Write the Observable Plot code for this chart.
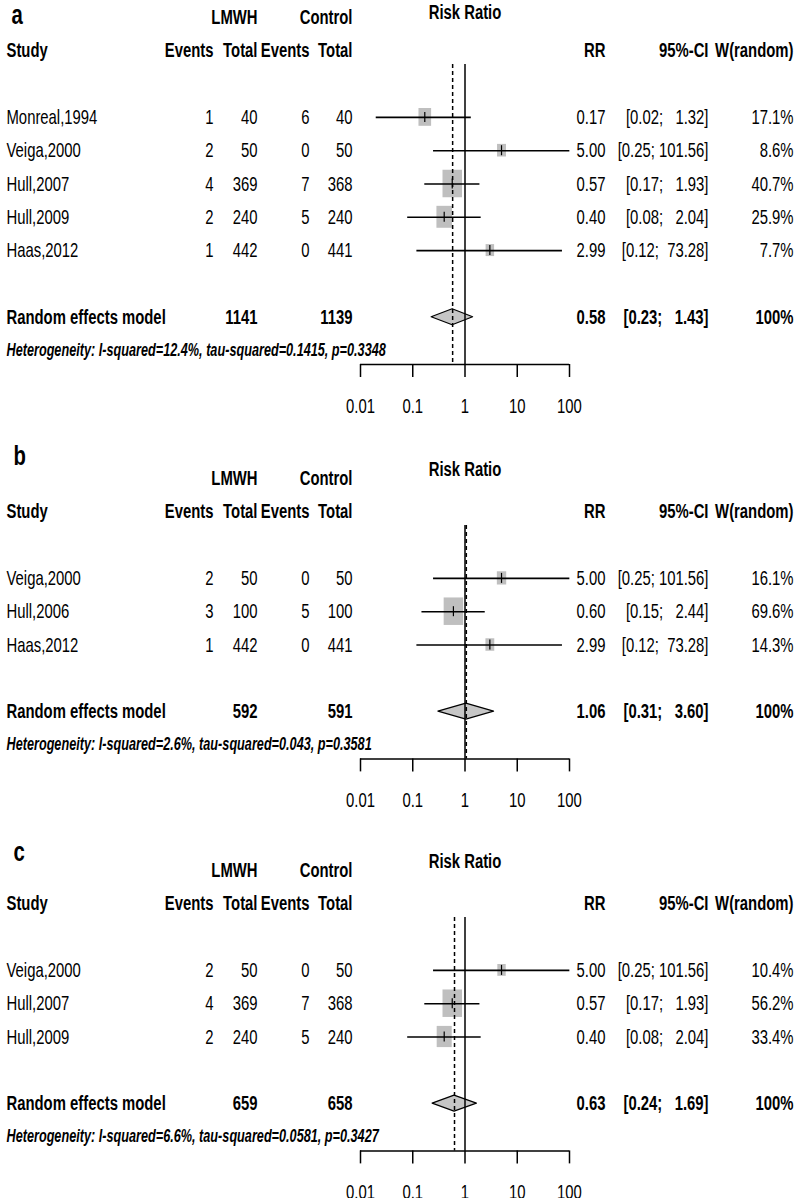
<!DOCTYPE html>
<html>
<head>
<meta charset="utf-8">
<script src="https://cdn.jsdelivr.net/npm/d3@7"></script>
<script src="https://cdn.jsdelivr.net/npm/@observablehq/plot@0.6"></script>
<style>
  body { margin: 0; background: #fff; }
  #chart svg { display: block; }
  #chart svg text { white-space: pre; }
</style>
</head>
<body>
<div id="chart"></div>
<script>
// ---------------- DATA ----------------
const panelLabels = ["a", "b", "c"];
const axisTicks = [0.01, 0.1, 1, 10, 100];

// Panel a
const studiesA = ["Monreal,1994", "Veiga,2000", "Hull,2007", "Hull,2009", "Haas,2012"];
const eventsLmwhA = [1, 2, 4, 2, 1];
const totalLmwhA = [40, 50, 369, 240, 442];
const eventsCtrlA = [6, 0, 7, 5, 0];
const totalCtrlA = [40, 50, 368, 240, 441];
const rrA = [0.17, 5.00, 0.57, 0.40, 2.99];
const lowerA = [0.02, 0.25, 0.17, 0.08, 0.12];
const upperA = [1.32, 101.56, 1.93, 2.04, 73.28];
const weightA = [17.1, 8.6, 40.7, 25.9, 7.7];
const pooledA = [0.58, 0.23, 1.43];      // RR, lower, upper
const pooledTotalsA = [1141, 1139];      // LMWH, Control
const hetA = "Heterogeneity: I-squared=12.4%, tau-squared=0.1415, p=0.3348";

// Panel b
const studiesB = ["Veiga,2000", "Hull,2006", "Haas,2012"];
const eventsLmwhB = [2, 3, 1];
const totalLmwhB = [50, 100, 442];
const eventsCtrlB = [0, 5, 0];
const totalCtrlB = [50, 100, 441];
const rrB = [5.00, 0.60, 2.99];
const lowerB = [0.25, 0.15, 0.12];
const upperB = [101.56, 2.44, 73.28];
const weightB = [16.1, 69.6, 14.3];
const pooledB = [1.06, 0.31, 3.60];
const pooledTotalsB = [592, 591];
const hetB = "Heterogeneity: I-squared=2.6%, tau-squared=0.043, p=0.3581";

// Panel c
const studiesC = ["Veiga,2000", "Hull,2007", "Hull,2009"];
const eventsLmwhC = [2, 4, 2];
const totalLmwhC = [50, 369, 240];
const eventsCtrlC = [0, 7, 5];
const totalCtrlC = [50, 368, 240];
const rrC = [5.00, 0.57, 0.40];
const lowerC = [0.25, 0.17, 0.08];
const upperC = [101.56, 1.93, 2.04];
const weightC = [10.4, 56.2, 33.4];
const pooledC = [0.63, 0.24, 1.69];
const pooledTotalsC = [659, 658];
const hetC = "Heterogeneity: I-squared=6.6%, tau-squared=0.0581, p=0.3427";

// ---------------- LAYOUT / STYLE ----------------
const FONT = "'Liberation Sans',Arial,sans-serif";
const FS = 20.5;          // main text size
const FS_HET = 17.5;      // heterogeneity line
const CONDENSE = 0.725;   // horizontal squeeze (narrow face look)
const ROW = 33.3;
const COL = {study: 6, het: 6, evL: 213, totL: 257, evC: 309, totC: 352, rr: 605, ci: 708, w: 793};
const layouts = [
  {height: 440, row0: 17, riskDy: -5, letterX: 11, letterY: 23},
  {height: 392, row0: 38, riskDy: -9, letterX: 13, letterY: 25},
  {height: 366, row0: 38, riskDy: -9, letterX: 13, letterY: 29}
];
const SQ_W = 19.5, SQ_H = 27.5;

const panels = [
  {studies: studiesA, evL: eventsLmwhA, totL: totalLmwhA, evC: eventsCtrlA, totC: totalCtrlA,
   rr: rrA, lo: lowerA, hi: upperA, w: weightA, pooled: pooledA, totals: pooledTotalsA, het: hetA},
  {studies: studiesB, evL: eventsLmwhB, totL: totalLmwhB, evC: eventsCtrlB, totC: totalCtrlB,
   rr: rrB, lo: lowerB, hi: upperB, w: weightB, pooled: pooledB, totals: pooledTotalsB, het: hetB},
  {studies: studiesC, evL: eventsLmwhC, totL: totalLmwhC, evC: eventsCtrlC, totC: totalCtrlC,
   rr: rrC, lo: lowerC, hi: upperC, w: weightC, pooled: pooledC, totals: pooledTotalsC, het: hetC}
];

const f2 = d3.format(".2f");

function forest(P, L, label) {
  const n = P.studies.length;
  const pad = d3.max([...P.hi, P.pooled[2]], v => f2(v).length);
  const ci = (lo, hi) => `[${f2(lo)}; ${f2(hi).padStart(pad)}]`;
  const maxW = d3.max(P.w);
  const rows = P.studies.map((s, i) => ({
    study: s, evL: String(P.evL[i]), totL: String(P.totL[i]), evC: String(P.evC[i]), totC: String(P.totC[i]),
    rr: P.rr[i], lo: P.lo[i], hi: P.hi[i], w: P.w[i],
    rrText: f2(P.rr[i]), ciText: ci(P.lo[i], P.hi[i]), wText: P.w[i].toFixed(1) + "%",
    sw: SQ_W * Math.sqrt(P.w[i] / maxW), sh: SQ_H * Math.sqrt(P.w[i] / maxW),
    y: L.row0 + (3 + i) * ROW
  }));
  const yRand = L.row0 + (n + 4) * ROW;
  const yHet = yRand + ROW;
  const yAxis = yHet + 0.42 * ROW;
  const yLine0 = L.row0 + 47;
  const pooled = [{
    label: "Random effects model", totL: String(P.totals[0]), totC: String(P.totals[1]),
    rrText: f2(P.pooled[0]), ciText: ci(P.pooled[1], P.pooled[2]), wText: "100%", y: yRand
  }];
  const diamond = [
    {x: P.pooled[1], y1: yRand, y2: yRand},
    {x: P.pooled[0], y1: yRand - 8, y2: yRand + 8},
    {x: P.pooled[2], y1: yRand, y2: yRand}
  ];
  const h1 = [{y: L.row0}], h2 = [{y: L.row0 + ROW}];

  const col = (data, text, x, o = {}) =>
    Plot.text(data, {y: "y", text, frameAnchor: "left", dx: x, textAnchor: "end", fontSize: FS, ...o});

  return Plot.plot({
    width: 797,
    height: L.height,
    marginLeft: 0, marginRight: 0, marginTop: 0,
    marginBottom: L.height - yAxis,
    x: {type: "log", domain: [0.01, 100], range: [360, 569]},
    y: {type: "identity"},
    style: {fontFamily: FONT, fontSize: FS + "px", color: "black", background: "white"},
    marks: [
      // panel letter
      Plot.text([label], {frameAnchor: "left", dx: L.letterX, y: () => L.letterY, text: d => d,
        textAnchor: "start", lineAnchor: "bottom", fontWeight: "bold", fontSize: 28,
        ariaLabel: "panel-letter"}),
      // header row 1
      col(h1, () => "LMWH", COL.totL, {fontWeight: "bold"}),
      col(h1, () => "Control", COL.totC, {fontWeight: "bold"}),
      Plot.text(["Risk Ratio"], {x: () => 1, y: () => L.row0 + L.riskDy, text: d => d,
        fontWeight: "bold", fontSize: FS}),
      // header row 2
      col(h2, () => "Study", COL.study, {fontWeight: "bold", textAnchor: "start"}),
      col(h2, () => "Events", COL.evL, {fontWeight: "bold"}),
      col(h2, () => "Total", COL.totL, {fontWeight: "bold"}),
      col(h2, () => "Events", COL.evC, {fontWeight: "bold"}),
      col(h2, () => "Total", COL.totC, {fontWeight: "bold"}),
      col(h2, () => "RR", COL.rr, {fontWeight: "bold"}),
      col(h2, () => "95%-CI", COL.ci, {fontWeight: "bold"}),
      col(h2, () => "W(random)", COL.w, {fontWeight: "bold"}),
      // study rows
      col(rows, "study", COL.study, {textAnchor: "start"}),
      col(rows, "evL", COL.evL),
      col(rows, "totL", COL.totL),
      col(rows, "evC", COL.evC),
      col(rows, "totC", COL.totC),
      col(rows, "rrText", COL.rr),
      col(rows, "ciText", COL.ci),
      col(rows, "wText", COL.w),
      // pooled row
      col(pooled, "label", COL.study, {textAnchor: "start", fontWeight: "bold"}),
      col(pooled, "totL", COL.totL, {fontWeight: "bold"}),
      col(pooled, "totC", COL.totC, {fontWeight: "bold"}),
      col(pooled, "rrText", COL.rr, {fontWeight: "bold"}),
      col(pooled, "ciText", COL.ci, {fontWeight: "bold"}),
      col(pooled, "wText", COL.w, {fontWeight: "bold"}),
      // heterogeneity
      Plot.text([P.het], {frameAnchor: "left", dx: COL.het, y: () => yHet, text: d => d,
        textAnchor: "start", fontWeight: "bold", fontStyle: "italic", fontSize: FS_HET}),
      // squares (weights)
      Plot.ruleX(rows, {x: "rr", y1: d => d.y - d.sh / 2, y2: d => d.y + d.sh / 2,
        strokeWidth: "sw", stroke: "#bfbfbf"}),
      // diamond
      Plot.area(diamond, {x1: "x", y1: "y1", y2: "y2", fill: "#c6c6c6", stroke: "black", strokeWidth: 1.2}),
      // reference lines
      Plot.ruleX([1], {y1: yLine0, y2: yAxis, stroke: "black", strokeWidth: 1.5}),
      Plot.ruleX([P.pooled[0]], {y1: yLine0, y2: yAxis, stroke: "black", strokeWidth: 1.5,
        strokeDasharray: "4,3"}),
      // confidence intervals
      Plot.ruleY(rows, {y: "y", x1: "lo", x2: "hi", stroke: "black", strokeWidth: 1.6}),
      Plot.ruleX(rows, {x: "rr", y1: d => d.y - 5, y2: d => d.y + 5, stroke: "black", strokeWidth: 1.2}),
      // axis
      Plot.ruleY([yAxis], {x1: 0.01, x2: 100, stroke: "black", strokeWidth: 1.5}),
      Plot.axisX({anchor: "bottom", ticks: axisTicks, tickFormat: d => String(d), tickSize: 13,
        tickPadding: 21, strokeWidth: 1.5, label: null, fontSize: FS})
    ]
  });
}

// Put every text's absolute position in its own x/y attributes (keeping em offsets as dx/dy),
// then squeeze the glyphs horizontally around that anchor (narrow typeface look).
function condense(svg, sx) {
  const texts = Array.from(svg.querySelectorAll("text"));
  const split = v => {
    if (v == null) return {px: 0, em: 0};
    return /em$/.test(v) ? {px: 0, em: parseFloat(v) || 0} : {px: parseFloat(v) || 0, em: 0};
  };
  const info = texts.map(t => {
    const m = t.getCTM();
    const ax = split(t.getAttribute("x")), ay = split(t.getAttribute("y"));
    const dx = split(t.getAttribute("dx")), dy = split(t.getAttribute("dy"));
    return {
      X: m.a * ax.px + m.c * ay.px + m.e + dx.px,
      Y: m.b * ax.px + m.d * ay.px + m.f + dy.px,
      emx: ax.em + dx.em, emy: ay.em + dy.em
    };
  });
  const groups = new Set(texts.map(t => t.parentNode).filter(g => g !== svg));
  groups.forEach(g => g.removeAttribute("transform"));
  texts.forEach((t, i) => {
    const {X, Y, emx, emy} = info[i];
    t.setAttribute("x", X.toFixed(2));
    t.setAttribute("y", Y.toFixed(2));
    if (emx) t.setAttribute("dx", emx + "em"); else t.removeAttribute("dx");
    if (emy) t.setAttribute("dy", emy + "em"); else t.removeAttribute("dy");
    if (t.closest('[aria-label="panel-letter"]')) { t.removeAttribute("transform"); return; }
    t.setAttribute("transform",
      `translate(${X.toFixed(2)},${Y.toFixed(2)}) scale(${sx},1) translate(${(-X).toFixed(2)},${(-Y).toFixed(2)})`);
  });
}

const chart = document.getElementById("chart");
panels.forEach((P, i) => {
  const svg = forest(P, layouts[i], panelLabels[i]);
  chart.appendChild(svg);
  condense(svg, CONDENSE);
});
</script>
</body>
</html>
